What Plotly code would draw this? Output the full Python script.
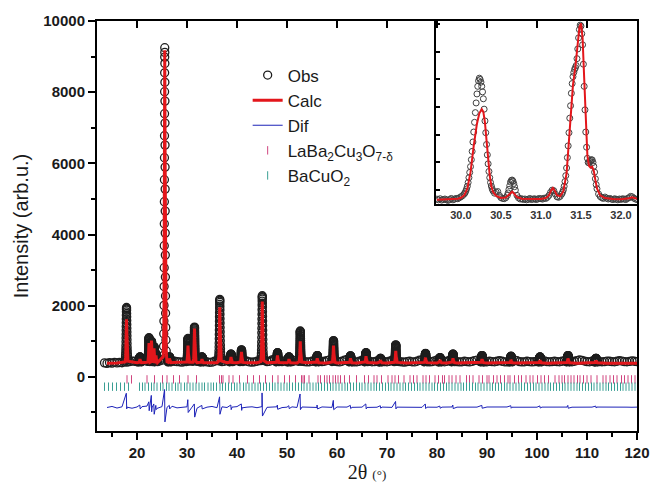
import numpy as np
import plotly.graph_objects as go

# ---------------- data ----------------
# observed background, 13.5 .. 120 deg every 0.5 deg
bg_two_theta = np.arange(13.5, 120.01, 0.5)
obs_background = [
    395, 380, 402, 388, 410, 392, 405, 398, 420, 415, 430, 445, 440, 425, 450, 470, 480, 500, 520, 510,
    520, 480, 450, 470, 520, 500, 470, 455, 440, 430, 425, 415, 430, 450, 460, 450, 470, 440, 430, 500,
    450, 420, 410, 415, 440, 470, 450, 430, 440, 470, 520, 500, 450, 460, 480, 500, 470, 440, 420, 415,
    425, 440, 460, 480, 455, 430, 440, 480, 500, 470, 440, 430, 450, 470, 440, 430, 450, 480, 470, 440,
    430, 420, 425, 440, 470, 500, 460, 430, 440, 460, 480, 470, 445, 430, 420, 440, 470, 490, 460, 430,
    420, 425, 440, 470, 495, 470, 440, 425, 430, 450, 470, 445, 430, 425, 440, 470, 480, 450, 430, 420,
    415, 430, 440, 425, 420, 440, 470, 480, 450, 430, 420, 430, 450, 475, 460, 435, 425, 440, 470, 480,
    455, 430, 420, 425, 440, 430, 420, 435, 460, 470, 450, 430, 420, 425, 440, 430, 425, 440, 455, 440,
    425, 420, 430, 445, 470, 455, 430, 420, 425, 440, 430, 420, 430, 445, 460, 470, 450, 430, 425, 430,
    440, 430, 425, 440, 455, 440, 430, 425, 440, 460, 475, 465, 445, 430, 425, 440, 455, 440, 430, 425,
    430, 445, 440, 430, 425, 440, 455, 445, 430, 425, 435, 450, 440, 430,
]
obs_base = 420

# calculated background, 14 .. 120 deg every 2 deg
calc_bg_two_theta = np.arange(14, 121, 2)
calc_background = [
    385, 388, 392, 398, 410, 430, 425, 412, 405, 402, 400, 398, 400, 398, 396, 398, 396, 395, 396, 394,
    395, 394, 393, 394, 393, 392, 393, 392, 391, 392, 391, 390, 391, 390, 390, 389, 390, 389, 388, 389,
    388, 388, 387, 388, 387, 387, 386, 387, 386, 386, 385, 386, 385, 385,
]
calc_base = 395

# difference curve baseline, 14 .. 120 deg every 1 deg
dif_bg_two_theta = np.arange(14, 121, 1)
dif_background = [
    -860, -830, -875, -840, -850, -880, -845, -835, -820, -870, -885, -835, -855, -825, -870, -860, -840, -850, -880, -835,
    -850, -830, -865, -840, -860, -850, -835, -870, -850, -840, -865, -835, -855, -845, -840, -862, -850, -842, -858, -846,
    -852, -846, -858, -844, -850, -856, -845, -852, -848, -855, -842, -850, -858, -846, -852, -848, -844, -856, -850, -847,
    -853, -848, -845, -855, -850, -846, -852, -849, -855, -845, -850, -853, -847, -851, -849, -855, -846, -850, -852, -848,
    -845, -852, -850, -848, -855, -846, -851, -849, -853, -847, -850, -852, -848, -851, -846, -850, -853, -849, -847, -851,
    -850, -848, -852, -846, -850, -853, -849,
]

# reflections: position, observed top, calculated top, difference spike extremes
peak_pos = [17.9, 20.6, 22.4, 22.9, 23.4, 23.8, 25.55, 26.5, 30.2, 31.5, 33.0, 36.55, 38.8, 40.9, 45.05, 48.1,
            50.4, 52.65, 56.05, 59.3, 62.7, 65.8, 68.7, 71.75, 77.7, 80.6, 83.2, 89.0, 94.8, 100.6, 106.2, 111.8]
peak_obs = [1950, 560, 1100, 1000, 850, 650, 9250, 560, 1080, 1400, 560, 2180, 640, 760, 2280, 680,
            560, 1290, 600, 1020, 590, 680, 520, 900, 660, 540, 640, 600, 580, 560, 600, 520]
peak_calc = [1620, 500, 950, 1020, 800, 600, 9180, 520, 880, 1360, 500, 1960, 560, 700, 2120, 600,
             500, 1000, 520, 880, 520, 580, 470, 730, 540, 480, 520, 500, 480, 470, 520, 460]
dif_hi = [-460, -790, -700, -520, -760, -800, -355, -800, -640, -760, -800, -560, -790, -760, -450, -790,
          -810, -480, -790, -660, -800, -760, -810, -690, -760, -820, -790, -800, -810, -815, -800, -820]
dif_lo = [-900, -900, -950, -980, -1050, -920, -1265, -900, -1000, -1130, -900, -1050, -920, -940, -1100, -910,
          -890, -920, -900, -920, -890, -900, -880, -900, -890, -880, -890, -880, -880, -875, -880, -875]

# peak profile (offset in deg, fraction of the peak height)
profile_dx = [-0.30, -0.24, -0.20, -0.17, -0.15, -0.13, -0.115, -0.10, -0.09, -0.08, -0.07, -0.06, -0.05, -0.04,
              -0.03, -0.02, -0.01, 0.0, 0.01, 0.02, 0.03, 0.04, 0.05, 0.06, 0.07, 0.08, 0.09, 0.10, 0.115,
              0.13, 0.15, 0.17, 0.20, 0.24, 0.30]
profile_frac = [0.02, 0.05, 0.09, 0.13, 0.18, 0.24, 0.30, 0.37, 0.44, 0.51, 0.58, 0.65, 0.72, 0.79, 0.86, 0.92,
                0.97, 1.00, 0.985, 0.95, 0.89, 0.83, 0.76, 0.69, 0.62, 0.55, 0.48, 0.41, 0.34, 0.27, 0.21,
                0.155, 0.11, 0.07, 0.035]

# Bragg positions
bragg_LaBa2Cu3O7 = [
    18.0, 18.9, 22.0, 23.5, 25.1, 26.0, 27.3, 28.5, 30.2, 31.9, 36.5, 36.9, 37.2, 38.4, 39.2, 40.5, 42.1, 43.3,
    44.5, 45.7, 47.1, 48.2, 49.5, 50.5, 51.7, 52.9, 53.2, 53.5, 54.4, 56.2, 56.7, 57.5, 58.0, 58.5, 59.2, 59.7,
    60.2, 60.7, 61.5, 62.5, 63.9, 65.5, 66.3, 67.4, 68.0, 68.9, 70.2, 71.0, 71.6, 72.3, 73.4, 74.6, 75.3, 76.0,
    77.2, 77.8, 78.5, 79.6, 80.3, 81.1, 81.5, 82.4, 83.0, 83.8, 84.6, 85.9, 86.5, 87.2, 88.4, 89.1, 90.0, 90.4,
    91.3, 92.0, 92.7, 93.5, 94.2, 94.6, 95.5, 96.3, 96.9, 97.8, 98.6, 99.2, 100.1, 100.8, 101.5, 102.3, 103.6,
    104.4, 105.0, 105.5, 106.2, 106.8, 107.4, 108.1, 108.6, 109.3, 110.0, 110.8, 112.0, 113.2, 113.8, 114.6,
    115.3, 116.0, 116.9, 117.5, 118.2, 118.9, 119.6,
]
bragg_BaCuO2 = [
    13.5, 14.3, 15.1, 15.9, 16.7, 17.5, 18.3,
    20.5, 21.1, 21.6, 22.3, 22.9, 23.4, 24.0, 24.7, 25.2, 25.9, 26.4, 27.0, 27.7, 28.2, 28.8, 29.5, 30.0, 30.6,
    31.2, 31.8, 32.4, 33.0, 33.5, 34.2, 34.8, 35.3, 35.9, 36.6, 37.1, 37.7, 38.3, 38.9, 39.5, 40.0, 40.6, 41.3,
    41.8, 42.4, 43.0, 43.6, 44.2, 44.7, 45.3, 45.9, 46.5, 47.1, 47.6, 48.2, 48.8, 49.4, 50.0, 50.5, 51.1, 51.7,
    52.3, 52.9, 53.4, 54.0, 54.6, 55.2, 55.8, 56.3, 56.9, 57.5, 58.1, 58.7, 59.2, 59.8, 60.4, 61.0, 61.6, 62.1,
    62.7, 63.3, 63.9, 64.5, 65.0, 65.6, 66.2, 66.8, 67.4, 67.9, 68.5, 69.1, 69.7, 70.3, 70.8, 71.4, 72.0, 72.6,
    73.2, 73.7, 74.3, 74.9, 75.5, 76.1, 76.6, 77.2, 77.8, 78.4, 79.0, 79.5, 80.1, 80.7, 81.3, 81.9, 82.4, 83.0,
    83.6, 84.2, 84.8, 85.3, 85.9, 86.5, 87.1, 87.7, 88.2, 88.8, 89.4, 90.0, 90.6, 91.1, 91.7, 92.3, 92.9, 93.5,
    94.0, 94.6, 95.2, 95.8, 96.4, 96.9, 97.5, 98.1, 98.7, 99.3, 99.8, 100.4, 101.0, 101.6, 102.2, 102.7, 103.3,
    103.9, 104.5, 105.1, 105.6, 106.2, 106.8, 107.4, 108.0, 108.5, 109.1, 109.7, 110.3, 110.9, 111.4, 112.0,
    112.6, 113.2, 113.8, 114.3, 114.9, 115.5, 116.1, 116.7, 117.2, 117.8, 118.4, 119.0, 119.6,
]
bragg_row_LaBa2Cu3O7 = -70
bragg_row_BaCuO2 = -275

# inset (29.7 .. 32.2 deg)
inset_obs_x = [
    29.70, 29.72, 29.74, 29.76, 29.78, 29.80, 29.82, 29.84, 29.86, 29.88, 29.90, 29.92, 29.94, 29.96, 29.98,
    30.00, 30.02, 30.04, 30.05, 30.06, 30.07, 30.08, 30.09, 30.10, 30.11, 30.12, 30.13, 30.14, 30.15, 30.16,
    30.17, 30.18, 30.19, 30.20, 30.21, 30.22, 30.23, 30.24, 30.25, 30.26, 30.27, 30.28, 30.29, 30.30, 30.31,
    30.32, 30.33, 30.34, 30.35, 30.36, 30.37, 30.38, 30.39, 30.40, 30.42, 30.44, 30.46, 30.48, 30.50, 30.52,
    30.54, 30.56, 30.58, 30.59, 30.60, 30.61, 30.62, 30.63, 30.64, 30.65, 30.66, 30.67, 30.68, 30.70, 30.72,
    30.74, 30.76, 30.78, 30.80, 30.82, 30.84, 30.86, 30.88, 30.90, 30.92, 30.94, 30.96, 30.98, 31.00, 31.02,
    31.04, 31.06, 31.08, 31.10, 31.12, 31.14, 31.16, 31.18, 31.20, 31.22, 31.24, 31.26, 31.27, 31.28, 31.29,
    31.30, 31.31, 31.32, 31.33, 31.34, 31.35, 31.36, 31.37, 31.38, 31.39, 31.40, 31.41, 31.42, 31.43, 31.44,
    31.45, 31.46, 31.47, 31.48, 31.49, 31.50, 31.51, 31.52, 31.53, 31.54, 31.55, 31.56, 31.57, 31.58, 31.59,
    31.60, 31.61, 31.62, 31.63, 31.64, 31.65, 31.66, 31.67, 31.68, 31.69, 31.70, 31.72, 31.74, 31.76, 31.78,
    31.80, 31.82, 31.84, 31.86, 31.88, 31.90, 31.92, 31.94, 31.96, 31.98, 32.00, 32.02, 32.04, 32.06, 32.08,
    32.10, 32.12, 32.14, 32.16, 32.18, 32.20,
]
inset_obs_y = [
    335, 330, 338, 328, 332, 336, 330, 326, 333, 340, 330, 335, 340, 338, 345,
    352, 360, 372, 380, 392, 408, 428, 455, 490, 528, 570, 620, 680, 748, 820,
    890, 960, 1030, 1095, 1150, 1190, 1209, 1200, 1180, 1150, 1110, 1060, 985, 900, 815,
    730, 655, 590, 535, 490, 455, 430, 410, 395, 378, 385, 390, 362, 346, 340,
    338, 345, 362, 380, 405, 432, 458, 470, 473, 465, 448, 425, 400, 362, 344,
    336, 338, 332, 336, 330, 334, 340, 332, 335, 338, 332, 336, 340, 338, 335,
    342, 340, 348, 362, 384, 400, 396, 372, 352, 348, 355, 372, 385, 402, 428,
    462, 505, 560, 635, 720, 815, 920, 1010, 1100, 1170, 1220, 1250, 1272, 1285, 1300,
    1350, 1420, 1500, 1560, 1592, 1585, 1530, 1450, 1310, 1150, 980, 820, 710, 630, 600,
    598, 608, 615, 620, 618, 600, 572, 530, 482, 440, 410, 372, 354, 345, 340,
    350, 342, 336, 340, 335, 332, 338, 334, 330, 336, 333, 338, 335, 332, 340,
    345, 355, 352, 342, 336, 332,
]
inset_calc_x = [
    29.70, 29.80, 29.90, 29.96, 30.00, 30.04, 30.08, 30.12, 30.16, 30.20, 30.23, 30.26, 30.28, 30.30, 30.32,
    30.34, 30.36, 30.38, 30.40, 30.44, 30.50, 30.56, 30.60, 30.62, 30.64, 30.66, 30.70, 30.76, 30.90, 31.00,
    31.06, 31.10, 31.13, 31.15, 31.17, 31.20, 31.24, 31.28, 31.32, 31.36, 31.40, 31.43, 31.46, 31.48, 31.50,
    31.52, 31.54, 31.56, 31.58, 31.60, 31.62, 31.64, 31.66, 31.68, 31.70, 31.74, 31.80, 31.90, 32.00, 32.10,
    32.14, 32.20,
]
inset_calc_y = [
    330, 332, 334, 338, 345, 362, 410, 530, 720, 880, 955, 985, 965, 890, 760,
    620, 505, 430, 388, 358, 343, 346, 368, 384, 389, 378, 350, 338, 334, 336,
    343, 362, 400, 415, 398, 364, 356, 392, 520, 850, 1160, 1290, 1440, 1575, 1605,
    1500, 1210, 880, 650, 575, 562, 569, 540, 472, 412, 362, 343, 336, 335, 341,
    349, 337,
]

# ---------------- assemble series ----------------
obs_x = list(bg_two_theta)
obs_y = list(obs_background)
for p, h in zip(peak_pos, peak_obs):
    for dx, f in zip(profile_dx, profile_frac):
        obs_x.append(p + dx)
        obs_y.append(obs_base + f * (h - obs_base))

calc_pts = [(x, y) for x, y in zip(calc_bg_two_theta, calc_background)
            if min(abs(x - p) for p in peak_pos) > 0.35]
for p, h in zip(peak_pos, peak_calc):
    for dx, f in zip(profile_dx, profile_frac):
        calc_pts.append((p + dx, calc_base + f * (h - calc_base)))
calc_pts.sort()
calc_x = [c[0] for c in calc_pts]
calc_y = [c[1] for c in calc_pts]

dif_pts = list(zip(dif_bg_two_theta, dif_background))
for p, hi, lo in zip(peak_pos, dif_hi, dif_lo):
    dif_pts.append((p - 0.04, hi))
    dif_pts.append((p + 0.04, lo))
dif_pts.sort()
dif_x = [d[0] for d in dif_pts]
dif_y = [d[1] for d in dif_pts]

# ---------------- figure ----------------
FONT = "Liberation Sans, Arial, sans-serif"
fig = go.Figure()

fig.add_trace(go.Scatter(
    x=obs_x, y=obs_y, mode="markers", name="Obs", legendgroup="a",
    marker=dict(symbol="circle-open", size=8, color="#1e1e1e", line=dict(width=1.3)),
))
fig.add_trace(go.Scatter(
    x=calc_x, y=calc_y, mode="lines", name="Calc", legendgroup="b",
    line=dict(color="#e3161b", width=3),
))
fig.add_trace(go.Scatter(
    x=dif_x, y=dif_y, mode="lines", name="Dif", legendgroup="c",
    line=dict(color="#1c22b8", width=1),
))
fig.add_trace(go.Scatter(
    x=bragg_LaBa2Cu3O7, y=[bragg_row_LaBa2Cu3O7] * len(bragg_LaBa2Cu3O7), mode="markers",
    name="LaBa<sub>2</sub>Cu<sub>3</sub>O<sub>7-δ</sub>", legendgroup="d",
    marker=dict(symbol="line-ns-open", size=6, color="#d0457f", line=dict(width=1, color="#d0457f")),
))
fig.add_trace(go.Scatter(
    x=bragg_BaCuO2, y=[bragg_row_BaCuO2] * len(bragg_BaCuO2), mode="markers",
    name="BaCuO<sub>2</sub>", legendgroup="e",
    marker=dict(symbol="line-ns-open", size=6, color="#3a9f94", line=dict(width=1, color="#3a9f94")),
))
# top (inside) ticks of the main frame
fig.add_trace(go.Scatter(x=[], y=[], xaxis="x3", yaxis="y", showlegend=False))

# inset
fig.add_trace(go.Scatter(
    x=inset_obs_x, y=inset_obs_y, mode="markers", xaxis="x2", yaxis="y2", showlegend=False,
    marker=dict(symbol="circle-open", size=6, color="#404040", line=dict(width=1)),
))
fig.add_trace(go.Scatter(
    x=inset_calc_x, y=inset_calc_y, mode="lines", xaxis="x2", yaxis="y2", showlegend=False,
    line=dict(color="#e3161b", width=2),
))

tick_font = dict(family=FONT, size=15, color="#1a1a1a", weight="bold")

fig.update_layout(
    width=650, height=487,
    margin=dict(l=97, r=13, t=21, b=56),
    paper_bgcolor="white", plot_bgcolor="rgba(0,0,0,0)",
    font=dict(family=FONT, color="#1a1a1a"),
    showlegend=True,
    legend=dict(
        x=0.279, y=0.911, xanchor="left", yanchor="top",
        bgcolor="rgba(0,0,0,0)", font=dict(family=FONT, size=17, color="#1a1a1a"),
        tracegroupgap=0, itemwidth=30,
    ),
    xaxis=dict(
        domain=[0, 1], range=[12, 120], tick0=0, dtick=10, tickformat="d",
        ticks="outside", ticklen=7, tickwidth=2, tickcolor="black",
        minor=dict(dtick=5, ticks="outside", ticklen=4, tickwidth=2, tickcolor="black"),
        showline=True, linewidth=2, linecolor="black", mirror=True, automargin=False,
        showgrid=False, zeroline=False, tickfont=tick_font,
        title=dict(text='2θ <span style="font-size:13px">(°)</span>',
                   font=dict(family="Liberation Serif, Times New Roman, serif", size=20, color="#1a1a1a"),
                   standoff=0),
    ),
    yaxis=dict(
        domain=[0, 1], range=[-1520, 10000], tick0=0, dtick=2000, tickformat="d",
        ticks="outside", ticklen=7, tickwidth=2, tickcolor="black",
        minor=dict(dtick=1000, ticks="outside", ticklen=4, tickwidth=2, tickcolor="black"),
        showline=True, linewidth=2, linecolor="black", mirror=True, automargin=False,
        showgrid=False, zeroline=False, tickfont=tick_font,
        title=dict(text="Intensity (arb.u.)", font=dict(family=FONT, size=20, color="#1a1a1a"), standoff=9),
    ),
    xaxis3=dict(
        overlaying="x", side="top", anchor="y", range=[12, 120], tick0=0, dtick=10,
        ticks="inside", ticklen=7, tickwidth=2, tickcolor="black", automargin=False,
        showticklabels=False, showline=False, showgrid=False, zeroline=False,
    ),
    xaxis2=dict(
        domain=[0.628, 1], anchor="y2", range=[29.69, 32.2], tick0=0, dtick=0.5, tickformat=".1f",
        ticks="", showline=True, linewidth=1.5, linecolor="black", mirror=True, automargin=False,
        showgrid=False, zeroline=False,
        tickfont=dict(family=FONT, size=11, color="#333333", weight="bold"),
    ),
    yaxis2=dict(
        domain=[0.5537, 1], anchor="x2", range=[300, 1622], tick0=0, dtick=200,
        ticks="inside", ticklen=4, tickwidth=1.5, tickcolor="black", showticklabels=False,
        showline=True, linewidth=1.5, linecolor="black", mirror=True, automargin=False,
        showgrid=False, zeroline=False,
    ),
)

# remove the page's default body margin so the 650x487 figure fills the window exactly
fig.write_html(
    "out.html",
    config={"displayModeBar": False},
    post_script="document.body.style.margin='0';document.body.style.overflow='hidden';",
)
